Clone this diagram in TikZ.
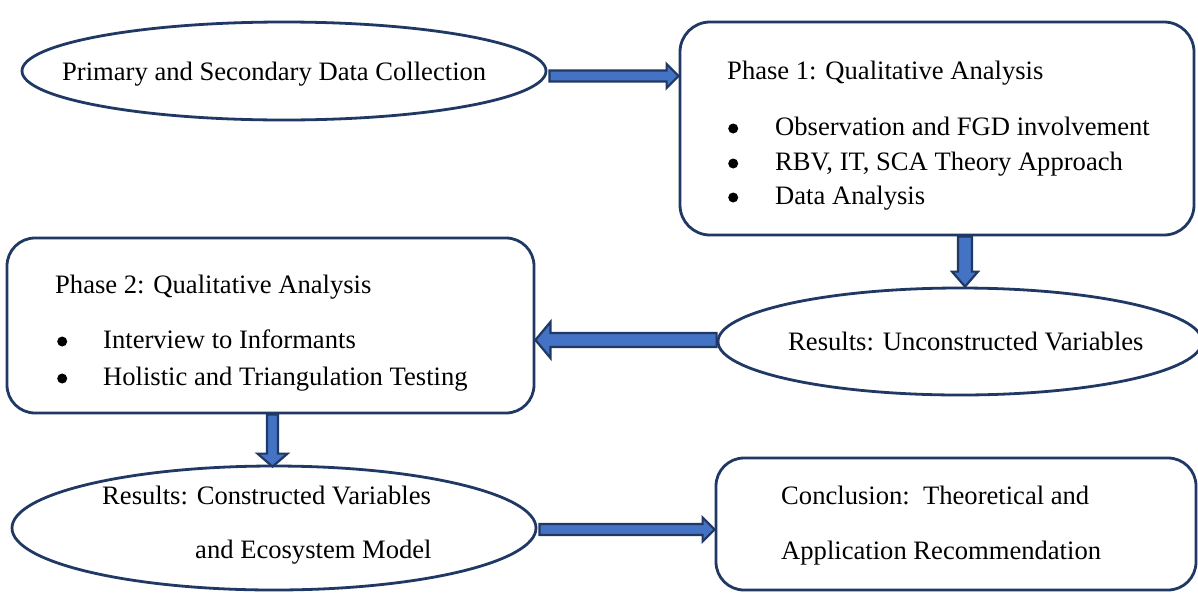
\documentclass[tikz,border=0pt]{standalone}
\usepackage{fontspec}
\setmainfont{Liberation Serif}
\usetikzlibrary{shapes.geometric,calc}

\definecolor{navy}{HTML}{1F3864}
\definecolor{arrowblue}{HTML}{4472C4}

\tikzset{
  frame/.style={draw=navy, line width=2.8pt, fill=white, inner sep=0pt},
  oval/.style={frame, ellipse},
  card/.style={frame, rectangle, rounded corners=30pt},
  txt/.style={anchor=base west, inner sep=0pt, font=\fontsize{26.6}{32}\selectfont},
  barrow/.style={draw=navy, fill=arrowblue, line width=2.2pt, line join=miter},
}

% round list bullet, centred a little above the baseline
\newcommand\listdot{\tikz[baseline=-6.5pt]\fill[black] (0pt,0pt) circle[radius=5pt];}

% horizontal block arrow: start, tip, shaft half width, head half width, head length
\newcommand\hblockarrow[5]{%
  \draw[barrow] let \p1=(#1), \p2=(#2), \n1={sign(\x2-\x1)} in
    (\x1,{\y1+#3}) -- ({\x2-\n1*#5},{\y1+#3}) -- ({\x2-\n1*#5},{\y1+#4})
    -- (\x2,\y1) -- ({\x2-\n1*#5},{\y1-#4}) -- ({\x2-\n1*#5},{\y1-#3})
    -- (\x1,{\y1-#3}) -- cycle;}
% vertical block arrow: start, tip, shaft half width, head half width, head length
\newcommand\vblockarrow[5]{%
  \draw[barrow] let \p1=(#1), \p2=(#2), \n1={sign(\y2-\y1)} in
    ({\x1+#3},\y1) -- ({\x1+#3},{\y2-\n1*#5}) -- ({\x1+#4},{\y2-\n1*#5})
    -- (\x1,\y2) -- ({\x1-#4},{\y2-\n1*#5}) -- ({\x1-#3},{\y2-\n1*#5})
    -- ({\x1-#3},\y1) -- cycle;}

\begin{document}
\begin{tikzpicture}[x=1pt,y=-1pt]
  \clip (0,0) rectangle (1198,592);
  \fill[white] (0,0) rectangle (1198,592);

  % shapes
  \node[oval, minimum width=524pt, minimum height=98pt] (e1) at (284,71) {};
  \node[card, minimum width=514pt, minimum height=213pt] (p1) at (937,128.5) {};
  \node[card, minimum width=527pt, minimum height=175pt, rounded corners=28pt] (p2) at (270.5,325.5) {};
  \node[oval, minimum width=484pt, minimum height=107pt] (e2) at (960,341.5) {};
  \node[oval, minimum width=524pt, minimum height=124pt] (e3) at (274,528) {};
  \node[card, minimum width=480pt, minimum height=132pt, rounded corners=28pt] (c1) at (956,524) {};

  % texts
  \node[txt] (t1) at (62,80) {Primary and Secondary Data Collection};

  \node[txt] (p1h) at (727,79) {Phase 1: Qualitative Analysis};
  \node[txt] (p1a) at (728,135) {\makebox[47pt][l]{\listdot}Observation and FGD involvement};
  \node[txt] (p1b) at (728,170) {\makebox[47pt][l]{\listdot}RBV, IT, SCA Theory Approach};
  \node[txt] (p1c) at (728,204) {\makebox[47pt][l]{\listdot}Data Analysis};

  \node[txt] (p2h) at (55,293) {Phase 2: Qualitative Analysis};
  \node[txt] (p2a) at (57,348) {\makebox[46pt][l]{\listdot}Interview to Informants};
  \node[txt] (p2b) at (57,385) {\makebox[46pt][l]{\listdot}Holistic and Triangulation Testing};

  \node[txt] (t2) at (788,350) {Results: Unconstructed Variables};

  \node[txt] (t3a) at (102,504) {Results: Constructed Variables};
  \node[txt] (t3b) at (195,558) {and Ecosystem Model};

  \node[txt] (t4a) at (781,504) {Conclusion:\ \ Theoretical and};
  \node[txt] (t4b) at (781,559) {Application Recommendation};

  % arrow end points
  \coordinate (a1s) at ($(e1.east)+(2,5)$);
  \coordinate (a1e) at (p1.west |- a1s);
  \coordinate (a2s) at ($(p1.south)+(28,0)$);
  \coordinate (a2e) at (a2s |- e2.north);
  \coordinate (a3s) at ($(e2.west)+(0,-1.5)$);
  \coordinate (a3e) at (p2.east |- a3s);
  \coordinate (a4s) at ($(p2.south)+(2,0)$);
  \coordinate (a4e) at ($(a4s |- e3.north)+(0,2)$);
  \coordinate (a5s) at ($(e3.east)+(2,1.5)$);
  \coordinate (a5e) at (c1.west |- a5s);

  % block arrows
  \hblockarrow{a1s}{a1e}{5.5pt}{12pt}{12pt}
  \vblockarrow{a2s}{a2e}{7pt}{13pt}{15pt}
  \hblockarrow{a3s}{a3e}{7pt}{18pt}{15pt}
  \vblockarrow{a4s}{a4e}{5.5pt}{15pt}{13pt}
  \hblockarrow{a5s}{a5e}{5.5pt}{12pt}{12pt}
\end{tikzpicture}
\end{document}
